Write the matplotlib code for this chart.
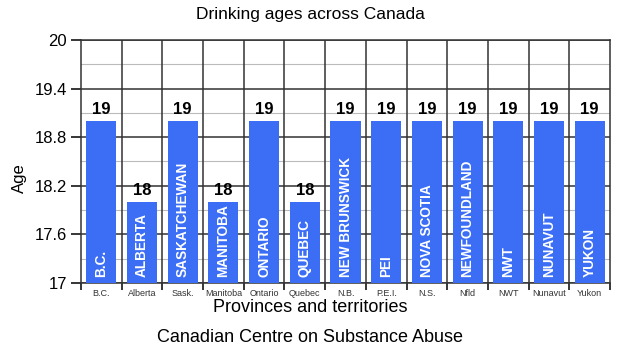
import numpy as np
import matplotlib.pyplot as plt
from matplotlib.ticker import FixedLocator

plt.rcParams['font.family'] = ['Liberation Sans', 'DejaVu Sans']

short_names = ["B.C.", "Alberta", "Sask.", "Manitoba", "Ontario", "Quebec", "N.B.",
               "P.E.I.", "N.S.", "Nfld", "NWT", "Nunavut", "Yukon"]
long_names = ["B.C.", "ALBERTA", "SASKATCHEWAN", "MANITOBA", "ONTARIO", "QUEBEC",
              "NEW BRUNSWICK", "PEI", "NOVA SCOTIA", "NEWFOUNDLAND", "NWT",
              "NUNAVUT", "YUKON"]
ages = [19, 18, 19, 18, 19, 18, 19, 19, 19, 19, 19, 19, 19]
y_major = [17, 17.6, 18.2, 18.8, 19.4, 20]
y_minor = [17.3, 17.9, 18.5, 19.1, 19.7]

fig = plt.figure(figsize=(6.2, 3.49), dpi=100)
ax = fig.add_axes([81 / 620, 1 - 283 / 349, 529 / 620, 243 / 349])

x = np.arange(len(ages))
ax.bar(x, ages, width=0.74, color='#3b6ef5', zorder=3)
ax.set_xlim(-0.5, len(ages) - 0.5)
ax.set_ylim(17, 20)

# grid
ax.set_yticks(y_major)
ax.set_yticklabels(["17", "17.6", "18.2", "18.8", "19.4", "20"])
ax.yaxis.set_minor_locator(FixedLocator(y_minor))
ax.grid(axis='y', which='minor', color='#bbbbbb', lw=0.8, zorder=1)
ax.grid(axis='y', which='major', color='#333333', lw=1.1, zorder=2)
for b in np.arange(0.5, len(ages) - 0.5):
    ax.axvline(b, color='#333333', lw=1.1, zorder=2)

ax.tick_params(axis='y', which='major', length=7, width=1.1, labelsize=12, pad=3)
ax.tick_params(axis='y', which='minor', length=0)

ax.set_xticks(x)
ax.set_xticklabels(short_names)
ax.xaxis.set_minor_locator(FixedLocator(np.arange(-0.5, len(ages))))
ax.tick_params(axis='x', which='major', length=0, labelsize=6.5, pad=4, labelcolor='#333333')
ax.tick_params(axis='x', which='minor', length=5, width=1.1, direction='out')

for s in ax.spines.values():
    s.set_color('#333333')
    s.set_linewidth(1.1)

for xi, a, name in zip(x, ages, long_names):
    ax.text(xi, a + 0.05, str(a), ha='center', va='bottom', fontsize=12,
            fontweight='bold', zorder=4)
    ax.text(xi, 17.08, name, ha='center', va='bottom', rotation=90,
            fontsize=9.8, fontweight='bold', color='white', zorder=4)

fig.text(19 / 620, 1 - 178 / 349, "Age", rotation=90, ha='center', va='center', fontsize=12)
fig.text(0.5, 1 - 15 / 349, "Drinking ages across Canada", ha='center', va='center', fontsize=12.5)
fig.text(0.5, 1 - 307 / 349, "Provinces and territories", ha='center', va='center', fontsize=13)
fig.text(0.5, 1 - 337 / 349, "Canadian Centre on Substance Abuse", ha='center', va='center', fontsize=13)

fig.savefig("out.png", dpi=100)
